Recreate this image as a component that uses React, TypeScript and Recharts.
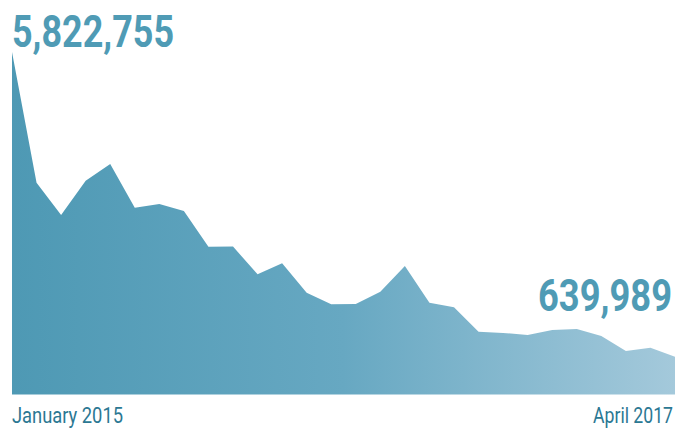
import { AreaChart, Area, XAxis, YAxis, LabelList } from 'recharts';

const months = [
  'January 2015', 'February 2015', 'March 2015', 'April 2015', 'May 2015', 'June 2015',
  'July 2015', 'August 2015', 'September 2015', 'October 2015', 'November 2015', 'December 2015',
  'January 2016', 'February 2016', 'March 2016', 'April 2016', 'May 2016', 'June 2016',
  'July 2016', 'August 2016', 'September 2016', 'October 2016', 'November 2016', 'December 2016',
  'January 2017', 'February 2017', 'March 2017', 'April 2017',
];

const counts = [
  5822755, 3600000, 3052000, 3635000, 3919000, 3176000, 3239000, 3120000,
  2513000, 2515000, 2044000, 2231000, 1731000, 1534000, 1539000, 1748000,
  2185000, 1561000, 1483000, 1068000, 1046000, 1012000, 1097000, 1114000,
  995000, 740000, 796000, 639989,
];

const tickLabels = [months[0], months[months.length - 1]];

const data = months.map((month, i) => ({ month, count: counts[i] }));

const textFont = 'Roboto, "Liberation Sans", sans-serif';

const EndLabel = (props: any) => {
  const { x, y, value, index } = props;
  const last = counts.length - 1;
  if (index !== 0 && index !== last) return null;
  const isFirst = index === 0;
  return (
    <text
      x={isFirst ? x : x - 3}
      y={isFirst ? y - 5 : y - 46}
      textAnchor={isFirst ? 'start' : 'end'}
      fill="#4f9bb5"
      fontFamily={textFont}
      fontWeight={700}
      fontSize={44}
      textLength={isFirst ? 162 : 134}
      lengthAdjust="spacingAndGlyphs"
    >
      {Number(value).toLocaleString('en-US')}
    </text>
  );
};

const EdgeTick = (props: any) => {
  const { x, y, payload, index } = props;
  return (
    <text
      x={index === 0 ? x : x - 2}
      y={y + 20}
      textAnchor={index === 0 ? 'start' : 'end'}
      fill="#2b7893"
      fontFamily={textFont}
      fontSize={22}
      textLength={index === 0 ? 111 : 80}
      lengthAdjust="spacingAndGlyphs"
    >
      {payload.value}
    </text>
  );
};

export default function App() {
  return (
    <div style={{ position: 'absolute', left: 0, top: 0, width: 687, height: 428, background: '#fff' }}>
      <AreaChart width={687} height={428} data={data} margin={{ top: 52, right: 12, bottom: 0, left: 12 }}>
        <defs>
          <linearGradient id="areaFill" x1="0" y1="0" x2="1" y2="0">
            <stop offset="0%" stopColor="#4e99b4" />
            <stop offset="50%" stopColor="#67a8c2" />
            <stop offset="100%" stopColor="#a4c9db" />
          </linearGradient>
        </defs>
        <XAxis
          dataKey="month"
          ticks={tickLabels}
          interval={0}
          axisLine={false}
          tickLine={false}
          height={33.5}
          tick={<EdgeTick />}
        />
        <YAxis hide domain={[0, counts[0]]} />
        <Area
          type="linear"
          dataKey="count"
          stroke="none"
          fill="url(#areaFill)"
          fillOpacity={1}
          isAnimationActive={false}
        >
          <LabelList dataKey="count" content={<EndLabel />} />
        </Area>
      </AreaChart>
    </div>
  );
}
